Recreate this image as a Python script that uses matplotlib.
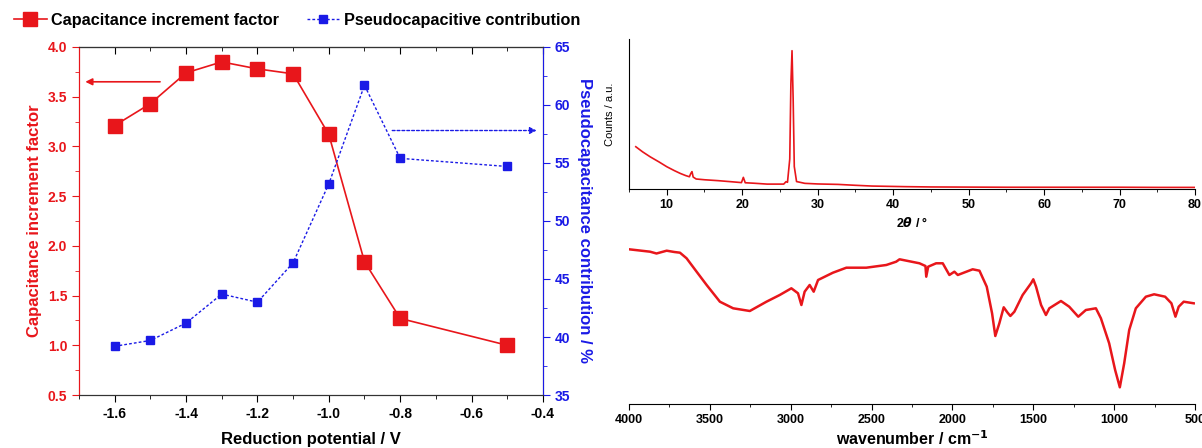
import matplotlib.pyplot as plt
from matplotlib.ticker import MultipleLocator

plt.rcParams["font.family"] = ["Liberation Sans", "DejaVu Sans"]
plt.rcParams["font.weight"] = "bold"

RED = "#e8161b"
BLUE = "#1a1ae6"

# --- left panel data ---
potential = [-1.6, -1.5, -1.4, -1.3, -1.2, -1.1, -1.0, -0.9, -0.8, -0.5]
increment_factor = [3.21, 3.43, 3.74, 3.85, 3.78, 3.73, 3.12, 1.84, 1.27, 1.00]
pseudo_contrib = [39.2, 39.7, 41.2, 43.7, 43.0, 46.4, 53.2, 61.7, 55.4, 54.7]

# --- XRD pattern ---
xrd_2theta = [5.9, 6.8, 7.8, 9.0, 10.0, 11.0, 11.8, 12.5, 13.0, 13.2, 13.35, 13.5, 13.9,
              15.0, 16.8, 18.5, 19.9, 20.15, 20.4, 21.5, 23.3, 25.0, 25.5, 25.8, 26.0,
              26.3, 26.45, 26.6, 26.75, 26.9, 27.2, 28.3, 30.0, 32.7, 35.0, 37.2, 41.6,
              45.0, 50.0, 55.0, 60.0, 65.0, 70.0, 75.0, 80.0]
xrd_counts = [28.2, 24.8, 21.5, 18.0, 14.9, 12.3, 10.4, 9.0, 8.2, 10.5, 11.6, 8.0, 6.7,
              6.2, 5.6, 4.9, 4.3, 7.8, 4.2, 3.9, 3.3, 3.3, 3.3, 4.9, 4.5,
              20.0, 70.0, 92.2, 60.0, 15.0, 5.0, 3.8, 3.4, 3.1, 2.5, 2.0, 1.6,
              1.4, 1.3, 1.2, 1.2, 1.2, 1.2, 1.1, 1.1]

# --- FTIR spectrum ---
ftir_wn = [4000, 3870, 3830, 3767, 3720, 3685, 3644, 3582, 3520, 3438, 3356, 3253, 3150,
           3068, 2996, 2955, 2934, 2914, 2883, 2858, 2831, 2739, 2656, 2533, 2409, 2348,
           2327, 2204, 2167, 2162, 2150, 2101, 2060, 2019, 1988, 1967, 1875, 1833, 1788,
           1755, 1735, 1710, 1683, 1659, 1642, 1617, 1566, 1514, 1500, 1483, 1452, 1422,
           1401, 1329, 1278, 1222, 1175, 1113, 1082, 1031, 994, 965, 938, 907, 866, 804,
           753, 685, 646, 621, 601, 570, 508]
ftir_signal = [154.7, 152.3, 150.5, 153.3, 152.0, 151.3, 145.7, 132.3, 119.0, 102.3, 95.7,
               93.0, 102.3, 109.0, 115.7, 110.7, 99.0, 112.3, 119.0, 112.3, 124.0, 131.3,
               136.3, 136.3, 139.0, 142.3, 144.7, 140.7, 138.0, 127.3, 137.3, 140.7, 140.7,
               129.0, 132.3, 129.0, 134.7, 133.3, 117.3, 90.7, 68.0, 80.7, 96.7, 91.3, 88.0,
               92.3, 109.0, 120.7, 124.7, 117.3, 99.0, 89.0, 95.7, 103.0, 97.3, 87.3, 94.0,
               95.7, 85.7, 60.7, 34.0, 16.7, 40.7, 74.0, 95.7, 107.3, 109.7, 107.3, 100.7,
               87.3, 97.3, 102.3, 100.7]

fig = plt.figure(figsize=(12.02, 4.48), dpi=100)

# ---------------- left: dual axis ----------------
ax = fig.add_axes([0.0657, 0.1183, 0.386, 0.7768])
ax2 = ax.twinx()

l1, = ax.plot(potential, increment_factor, "-s", color=RED, lw=1.2, ms=10,
              label="Capacitance increment factor")
l2, = ax2.plot(potential, pseudo_contrib, "--s", color=BLUE, lw=1.0, ms=6,
               dashes=(2, 1.5), label="Pseudocapacitive contribution")

ax.set_xlim(-1.7, -0.4)
ax.set_ylim(0.5, 4.0)
ax2.set_ylim(35, 65)
ax.xaxis.set_major_locator(MultipleLocator(0.2))
ax.xaxis.set_minor_locator(MultipleLocator(0.1))
ax.yaxis.set_major_locator(MultipleLocator(0.5))
ax.yaxis.set_minor_locator(MultipleLocator(0.25))
ax2.yaxis.set_major_locator(MultipleLocator(5))
ax2.yaxis.set_minor_locator(MultipleLocator(2.5))
ax.xaxis.set_major_formatter(plt.FuncFormatter(lambda v, p: f"{v:.1f}"))

ax.tick_params(axis="x", which="both", direction="out", labelsize=10)
ax.tick_params(axis="x", which="major", length=5)
ax.tick_params(axis="x", which="minor", length=3)
ax.tick_params(axis="y", which="both", colors=RED, labelsize=10)
ax.tick_params(axis="y", which="major", length=5)
ax.tick_params(axis="y", which="minor", length=3)
ax2.tick_params(axis="y", which="both", colors=BLUE, labelsize=10)
ax2.tick_params(axis="y", which="major", length=5)
ax2.tick_params(axis="y", which="minor", length=3)

# top ticks pointing inward
top = ax.secondary_xaxis("top")
top.xaxis.set_major_locator(MultipleLocator(0.2))
top.xaxis.set_minor_locator(MultipleLocator(0.1))
top.tick_params(axis="x", which="both", direction="in", labeltop=False)
top.tick_params(axis="x", which="major", length=5)
top.tick_params(axis="x", which="minor", length=3)
top.spines["top"].set_color("#333333")

ax.spines["left"].set_color(RED)
ax2.spines["left"].set_color(RED)
ax2.spines["right"].set_color(BLUE)
for s in ["top", "bottom"]:
    ax.spines[s].set_color("#333333")
    ax2.spines[s].set_color("#333333")

ax.set_xlabel("Reduction potential / V", fontsize=12, fontweight="bold", labelpad=8)
ax.set_ylabel("Capacitance increment factor", fontsize=12, fontweight="bold", color=RED)
ax2.set_ylabel("Pseudocapacitance contribution / %", fontsize=12, fontweight="bold",
               color=BLUE, rotation=270, labelpad=16)

ax.annotate("", xy=(-1.69, 3.65), xytext=(-1.465, 3.65),
            arrowprops=dict(arrowstyle="-|>", color=RED, lw=1.2, mutation_scale=10))
ax2.annotate("", xy=(-0.41, 57.8), xytext=(-0.83, 57.8),
             arrowprops=dict(arrowstyle="-|>", color=BLUE, lw=1.0, ls=(0, (2, 1.5)),
                             mutation_scale=10))

fig.legend(handles=[l1, l2], loc="center", bbox_to_anchor=(0.2475, 0.955), ncol=2,
           frameon=False, handlelength=2.0, handletextpad=0.3, columnspacing=1.7,
           prop={"weight": "bold", "size": 11.7})

# ---------------- top right: XRD ----------------
axr = fig.add_axes([0.5233, 0.578, 0.4709, 0.335])
axr.plot(xrd_2theta, xrd_counts, color=RED, lw=1.2)
axr.set_xlim(5, 80)
axr.set_ylim(0, 100)
axr.xaxis.set_major_locator(MultipleLocator(10))
axr.xaxis.set_minor_locator(MultipleLocator(5))
axr.set_yticks([])
axr.spines["top"].set_visible(False)
axr.spines["right"].set_visible(False)
axr.tick_params(axis="x", which="major", length=4, labelsize=9)
axr.tick_params(axis="x", which="minor", length=2)
axr.set_xlabel(r"2$\it{\theta}$ / °", fontsize=9, fontweight="bold", labelpad=3)
axr.set_ylabel("Counts / a.u.", fontsize=8, fontweight="normal", labelpad=10)

# ---------------- bottom right: FTIR ----------------
axf = fig.add_axes([0.5233, 0.0982, 0.4709, 0.3795])
axf.plot(ftir_wn, ftir_signal, color=RED, lw=1.8)
axf.set_xlim(4000, 500)
axf.set_ylim(0, 170)
axf.xaxis.set_major_locator(MultipleLocator(500))
axf.xaxis.set_minor_locator(MultipleLocator(250))
axf.set_yticks([])
for s in ["top", "right", "left"]:
    axf.spines[s].set_visible(False)
axf.tick_params(axis="x", which="major", length=4, labelsize=9)
axf.tick_params(axis="x", which="minor", length=2)
axf.set_xlabel("wavenumber / cm$^{-1}$", fontsize=11.5, fontweight="bold", labelpad=2)

fig.savefig("out.png", dpi=100)
